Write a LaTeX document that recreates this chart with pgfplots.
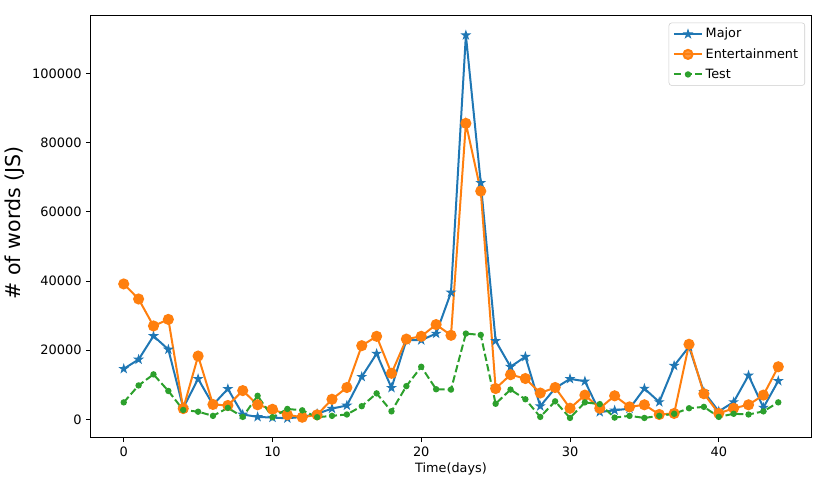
\documentclass[border=0pt]{standalone}
\usepackage{fontspec}
\setmainfont{DejaVu Sans}
\usepackage{pgfplots}
\pgfplotsset{compat=1.18}
\definecolor{c0}{HTML}{1F77B4}
\definecolor{c1}{HTML}{FF7F0E}
\definecolor{c2}{HTML}{2CA02C}
\pgfdeclareplotmark{fstar}{%
  \pgfpathmoveto{\pgfpointpolar{90}{\pgfplotmarksize}}%
  \pgfpathlineto{\pgfpointpolar{126}{0.382\pgfplotmarksize}}%
  \pgfpathlineto{\pgfpointpolar{162}{\pgfplotmarksize}}%
  \pgfpathlineto{\pgfpointpolar{198}{0.382\pgfplotmarksize}}%
  \pgfpathlineto{\pgfpointpolar{234}{\pgfplotmarksize}}%
  \pgfpathlineto{\pgfpointpolar{270}{0.382\pgfplotmarksize}}%
  \pgfpathlineto{\pgfpointpolar{306}{\pgfplotmarksize}}%
  \pgfpathlineto{\pgfpointpolar{342}{0.382\pgfplotmarksize}}%
  \pgfpathlineto{\pgfpointpolar{18}{\pgfplotmarksize}}%
  \pgfpathlineto{\pgfpointpolar{54}{0.382\pgfplotmarksize}}%
  \pgfpathclose
  \pgfusepathqfillstroke}
\pgfplotstableread{
x y
0 14600
1 17300
2 24100
3 20200
4 3300
5 11700
6 4200
7 8800
8 1400
9 700
10 500
11 300
12 700
13 1600
14 3100
15 4000
16 12300
17 19000
18 9100
19 22900
20 22900
21 24800
22 36700
23 111100
24 68400
25 22700
26 15200
27 18100
28 3800
29 9000
30 11700
31 11000
32 2100
33 2600
34 3100
35 8900
36 5000
37 15500
38 21000
39 7900
40 2300
41 5000
42 12700
43 3400
44 11100
}\major
\pgfplotstableread{
x y
0 39150
1 34800
2 27000
3 28900
4 3100
5 18300
6 4300
7 4000
8 8300
9 4200
10 2900
11 1300
12 600
13 1300
14 5800
15 9200
16 21300
17 24000
18 13300
19 23200
20 24000
21 27400
22 24300
23 85600
24 66000
25 8900
26 12900
27 11800
28 7600
29 9200
30 3200
31 7000
32 3200
33 6800
34 3600
35 4200
36 1400
37 1700
38 21700
39 7400
40 1700
41 3200
42 4200
43 7000
44 15200
}\entert
\pgfplotstableread{
x y
0 4900
1 9800
2 13000
3 8200
4 2700
5 2200
6 1000
7 3300
8 700
9 6800
10 600
11 3000
12 2600
13 600
14 1000
15 1400
16 3800
17 7500
18 2300
19 9600
20 15200
21 8700
22 8600
23 24800
24 24400
25 4500
26 8600
27 5800
28 700
29 5200
30 400
31 4900
32 4400
33 500
34 1000
35 400
36 1000
37 1600
38 3200
39 3600
40 700
41 1600
42 1400
43 2300
44 4900
}\testt
\begin{document}
\begin{tikzpicture}
\useasboundingbox (-68.25pt,-32.6pt) rectangle (555pt,328.1pt);
\begin{axis}[
  at={(0,0)}, anchor=south west,
  scale only axis,
  width=540pt, height=316.1pt,
  xmin=-2.2, xmax=46.2,
  ymin=-5250, ymax=116650,
  xtick={0,10,20,30,40},
  ytick={0,20000,40000,60000,80000,100000},
  scaled y ticks=false,
  tick align=outside,
  major tick length=3.5pt,
  tick style={black, line width=0.6pt},
  xtick pos=bottom, ytick pos=left,
  axis line style={line width=0.75pt},
  /pgf/number format/assume math mode=true,
  yticklabel style={/pgf/number format/fixed, /pgf/number format/1000 sep={}, font=\fontsize{9.7}{11}\selectfont},
  xticklabel style={font=\fontsize{9.7}{11}\selectfont},
  xlabel={Time(days)},
  xlabel style={at={(axis description cs:0.5,0)}, anchor=base, yshift=-25.9pt, font=\fontsize{9.6}{11}\selectfont},
  ylabel={\# of words (JS)},
  ylabel style={at={(axis description cs:-0.1056,0.509)}, anchor=center, font=\fontsize{15.4}{18}\selectfont},
  legend style={at={(1,1)}, anchor=north east, xshift=-4.5pt, yshift=-5pt,
    draw=black!20, rounded corners=2pt, fill=white, fill opacity=0.8, text opacity=1,
    font=\fontsize{9.6}{11}\selectfont, row sep=2.4pt, inner xsep=3pt, inner ysep=2pt},
  legend cell align=left,
  legend image code/.code={\draw[mark repeat=2, mark phase=2, #1] plot coordinates {(0cm,0cm) (0.37cm,0cm) (0.74cm,0cm)};},
]
\addplot[color=c0, line width=1.5pt, mark=fstar, mark size=3pt, mark options={solid, fill=c0, draw=c0, line width=0.8pt}] table[x=x,y=y] {\major};
\addlegendentry{Major}
\addplot[color=c1, line width=1.5pt, mark=*, mark size=3.4pt, mark options={solid, fill=c1, draw=c1}] table[x=x,y=y] {\entert};
\addlegendentry{Entertainment}
\addplot[color=c2, line width=1.5pt, dash pattern=on 5.55pt off 2.4pt, mark=*, mark size=1.6pt, mark options={solid, fill=c2, draw=c2}] table[x=x,y=y] {\testt};
\addlegendentry{Test}
\end{axis}
\end{tikzpicture}
\end{document}
